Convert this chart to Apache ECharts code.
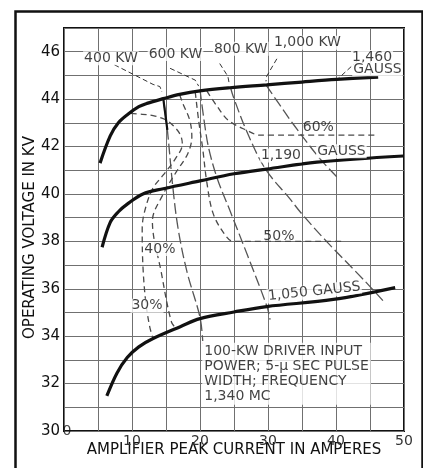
<!DOCTYPE html>
<html>
<head>
<meta charset="utf-8">
<script src="https://cdn.jsdelivr.net/npm/echarts@6/dist/echarts.min.js"></script>
<style>
html,body{margin:0;padding:0;background:#fff;}
#chart{width:423px;height:468px;}
</style>
</head>
<body>
<div id="chart"></div>
<script>
// magnetic field curves (amps, kV)
var gauss1460 = [[5.3,41.3],[6.8,42.45],[8,43],[9.4,43.36],[11,43.68],[12.2,43.82],[14.6,44.02],[17,44.2],[20,44.35],[24.4,44.48],[29.8,44.6],[35,44.72],[40.1,44.83],[46.2,44.93]];
var gauss1190 = [[5.6,37.75],[6.8,38.8],[8,39.25],[9.3,39.57],[11.6,40.0],[14.6,40.22],[20,40.55],[25,40.85],[29.8,41.05],[37.2,41.34],[49.9,41.6]];
var gauss1050 = [[6.3,31.48],[7.8,32.45],[9.3,33.1],[11,33.55],[13.1,33.9],[17.1,34.4],[20,34.74],[25,35.02],[29.8,35.25],[39.6,35.55],[48.7,36.05]];

// constant output power lines
var kw400 = [[14.6,44.02],[15.2,42.7],[16.0,40.3],[16.8,38.5],[18.1,36.7],[20,34.8],[20.4,33.8]];
var kw600 = [[20,44.4],[20.6,43.1],[21.3,41.9],[22.6,40.6],[24.4,39.3],[27,37.4],[29.85,35.25],[30.3,34.7]];
var kw800 = [[24.5,44.48],[24.9,44.1],[26.9,42.62],[29.6,41.06],[33.2,39.8],[35,39.15],[38.6,38.0],[44,36.4],[46.9,35.5]];
var kw1000 = [[29.7,44.6],[31.5,43.85],[33.7,42.95],[37.6,41.5],[40.2,40.7]];

// efficiency contours
var eff30 = [[9.8,43.4],[11.5,43.36],[13.1,43.3],[14.8,43.15],[16.0,42.9],[17.1,42.5],[17.4,42.1],[16.3,41.45],[14.6,40.8],[13.0,40.2],[11.8,39.2],[11.5,38.5],[11.6,37],[12.0,35.5],[12.6,34.4],[13.1,33.9]];
var eff40 = [[17.0,44.18],[17.5,43.8],[18.5,43.1],[18.8,42.4],[18.2,41.7],[16.6,40.97],[14.6,40.0],[13.0,38.85],[14.3,36.7],[15.8,34.6],[16.6,34.3]];
var eff50 = [[19.3,44.3],[19.8,43.1],[20.4,41.9],[21.0,40.5],[21.9,39.2],[23.5,38.35],[24.9,38.0],[41,38.0]];
var eff60 = [[21,44.35],[22.5,43.7],[24.2,43.1],[26.9,42.68],[28.8,42.48],[45.7,42.48]];

// leader lines from the labels to the curves
var leaders = [
  [[7.4,45.45],[13.1,44.62],[14.1,44.53],[14.4,44.3]],
  [[15.6,45.3],[19.3,44.8],[19.8,44.55]],
  [[22.9,45.5],[24.1,44.96],[24.3,44.65]],
  [[31.3,45.7],[29.8,44.96],[29.7,44.75]],
  [[43.1,45.6],[40.3,44.86]]
];

// text labels: x, y, text
var boxedLabels = [
  [6.9,45.72,'400 KW'],
  [16.4,45.9,'600 KW'],
  [26.0,46.12,'800 KW'],
  [35.8,46.38,'1,000 KW'],
  [45.3,45.78,'1,460'],
  [46.1,45.26,'GAUSS'],
  [31.9,41.62,'1,190'],
  [40.8,41.8,'GAUSS'],
  [14.1,37.68,'40%'],
  [12.2,35.28,'30%']
];
var plainLabels = [
  [37.4,42.8,'60%'],
  [31.6,38.2,'50%']
];
var rotLabels = [[36.8,35.88,'1,050 GAUSS']];
var noteText = ['100-KW DRIVER INPUT','POWER; 5-\u03bc SEC PULSE','WIDTH; FREQUENCY','1,340 MC'];
var notePos = [20.4,33.7];

var xName = 'AMPLIFIER PEAK CURRENT IN AMPERES';
var yName = 'OPERATING VOLTAGE IN KV';

var FONT = 'DejaVu Sans';
var INK = '#111';

var chart = echarts.init(document.getElementById('chart'));

function curve(data, kind) {
  var s = {type: 'line', data: data, symbol: 'none', smooth: 0.35, z: 3, silent: true};
  if (kind === 'gauss') s.lineStyle = {color: INK, width: 3.2};
  else if (kind === 'kw') s.lineStyle = {color: '#555', width: 1.3, type: [11, 4]};
  else s.lineStyle = {color: '#4a4a4a', width: 1.3, type: [6, 4]};
  if (kind === 'gauss') s.z = 5;
  return s;
}

var labelBase = {fontFamily: FONT, fontSize: 14, color: INK};

var series = [
  curve(gauss1460, 'gauss'), curve(gauss1190, 'gauss'), curve(gauss1050, 'gauss'),
  curve(kw400, 'kw'), curve(kw600, 'kw'), curve(kw800, 'kw'), curve(kw1000, 'kw'),
  curve(eff30, 'eff'), curve(eff40, 'eff'), curve(eff50, 'eff'), curve(eff60, 'eff'),
  {
    type: 'line', data: kw400.slice(0, 2), symbol: 'none', z: 5,
    lineStyle: {color: INK, width: 2.2}
  },
  {
    type: 'lines', coordinateSystem: 'cartesian2d', polyline: true, z: 4,
    symbol: ['none', 'arrow'], symbolSize: 6,
    lineStyle: {color: '#333', width: 1, type: [5, 3], opacity: 1},
    data: leaders.map(function (c) { return {coords: c}; })
  },
  {
    type: 'scatter', symbolSize: 0, clip: false, z: 10,
    data: boxedLabels.map(function (d) { return {value: [d[0], d[1]], name: d[2]}; }),
    label: Object.assign({show: true, position: 'inside', formatter: '{b}',
      backgroundColor: '#fff', padding: [0, 1]}, labelBase)
  },
  {
    type: 'scatter', symbolSize: 0, clip: false, z: 10,
    data: plainLabels.map(function (d) { return {value: [d[0], d[1]], name: d[2]}; }),
    label: Object.assign({show: true, position: 'inside', formatter: '{b}'}, labelBase)
  },
  {
    type: 'scatter', symbolSize: 0, clip: false, z: 10,
    data: rotLabels.map(function (d) { return {value: [d[0], d[1]], name: d[2]}; }),
    label: Object.assign({show: true, position: 'inside', formatter: '{b}', rotate: 6,
      backgroundColor: '#fff', padding: [0, 1]}, labelBase)
  },
  {
    type: 'scatter', symbolSize: 1, clip: false, z: 10,
    data: [{value: notePos, name: noteText.join('\n')}],
    label: Object.assign({show: true, position: [0, 0], align: 'left', verticalAlign: 'top',
      formatter: '{b}', lineHeight: 15, backgroundColor: '#fff', padding: [1, 2]}, labelBase)
  },
  {
    // the lone "0" that sits beside the 30 at the origin
    type: 'scatter', symbolSize: 0, clip: false, z: 10,
    data: [{value: [0.45, 30], name: '0'}],
    label: Object.assign({show: true, position: 'inside', formatter: '{b}', color: '#444'}, labelBase, {fontSize: 14})
  }
];

var option = {
  animation: false,
  backgroundColor: '#fff',
  grid: {left: 64, right: 19, top: 28, bottom: 37, show: true, borderColor: INK, borderWidth: 2,
    containLabel: false, outerBoundsMode: 'none'},
  xAxis: {
    type: 'value', min: 0, max: 50, interval: 5,
    name: xName, nameLocation: 'middle', nameGap: 12, nameMoveOverlap: false,
    nameTextStyle: {fontFamily: FONT, fontSize: 15, color: INK},
    axisLine: {show: false}, axisTick: {show: false},
    axisLabel: {
      margin: 3, fontFamily: FONT, fontSize: 14, color: '#333',
      formatter: function (v) { return (v % 10 === 0 && v > 0) ? v : ''; }
    },
    splitLine: {show: true, lineStyle: {color: '#707070', width: 1}}
  },
  yAxis: {
    type: 'value', min: 30, max: 47, interval: 1,
    name: yName, nameLocation: 'middle', nameGap: 26, nameRotate: 90, nameMoveOverlap: false,
    nameTextStyle: {fontFamily: FONT, fontSize: 15, color: INK, padding: [0, 16, 0, 0]},
    axisLine: {show: false}, axisTick: {show: false},
    axisLabel: {
      margin: 4, fontFamily: FONT, fontSize: 15, color: INK,
      formatter: function (v) { return (v % 2 === 0) ? v : ''; }
    },
    splitLine: {show: true, lineStyle: {color: '#707070', width: 1}}
  },
  graphic: [{
    type: 'rect', left: 13, top: 9, silent: true,
    shape: {width: 407, height: 470},
    style: {fill: 'none', stroke: INK, lineWidth: 2.5}
  }],
  series: series
};

chart.setOption(option);
</script>
</body>
</html>
